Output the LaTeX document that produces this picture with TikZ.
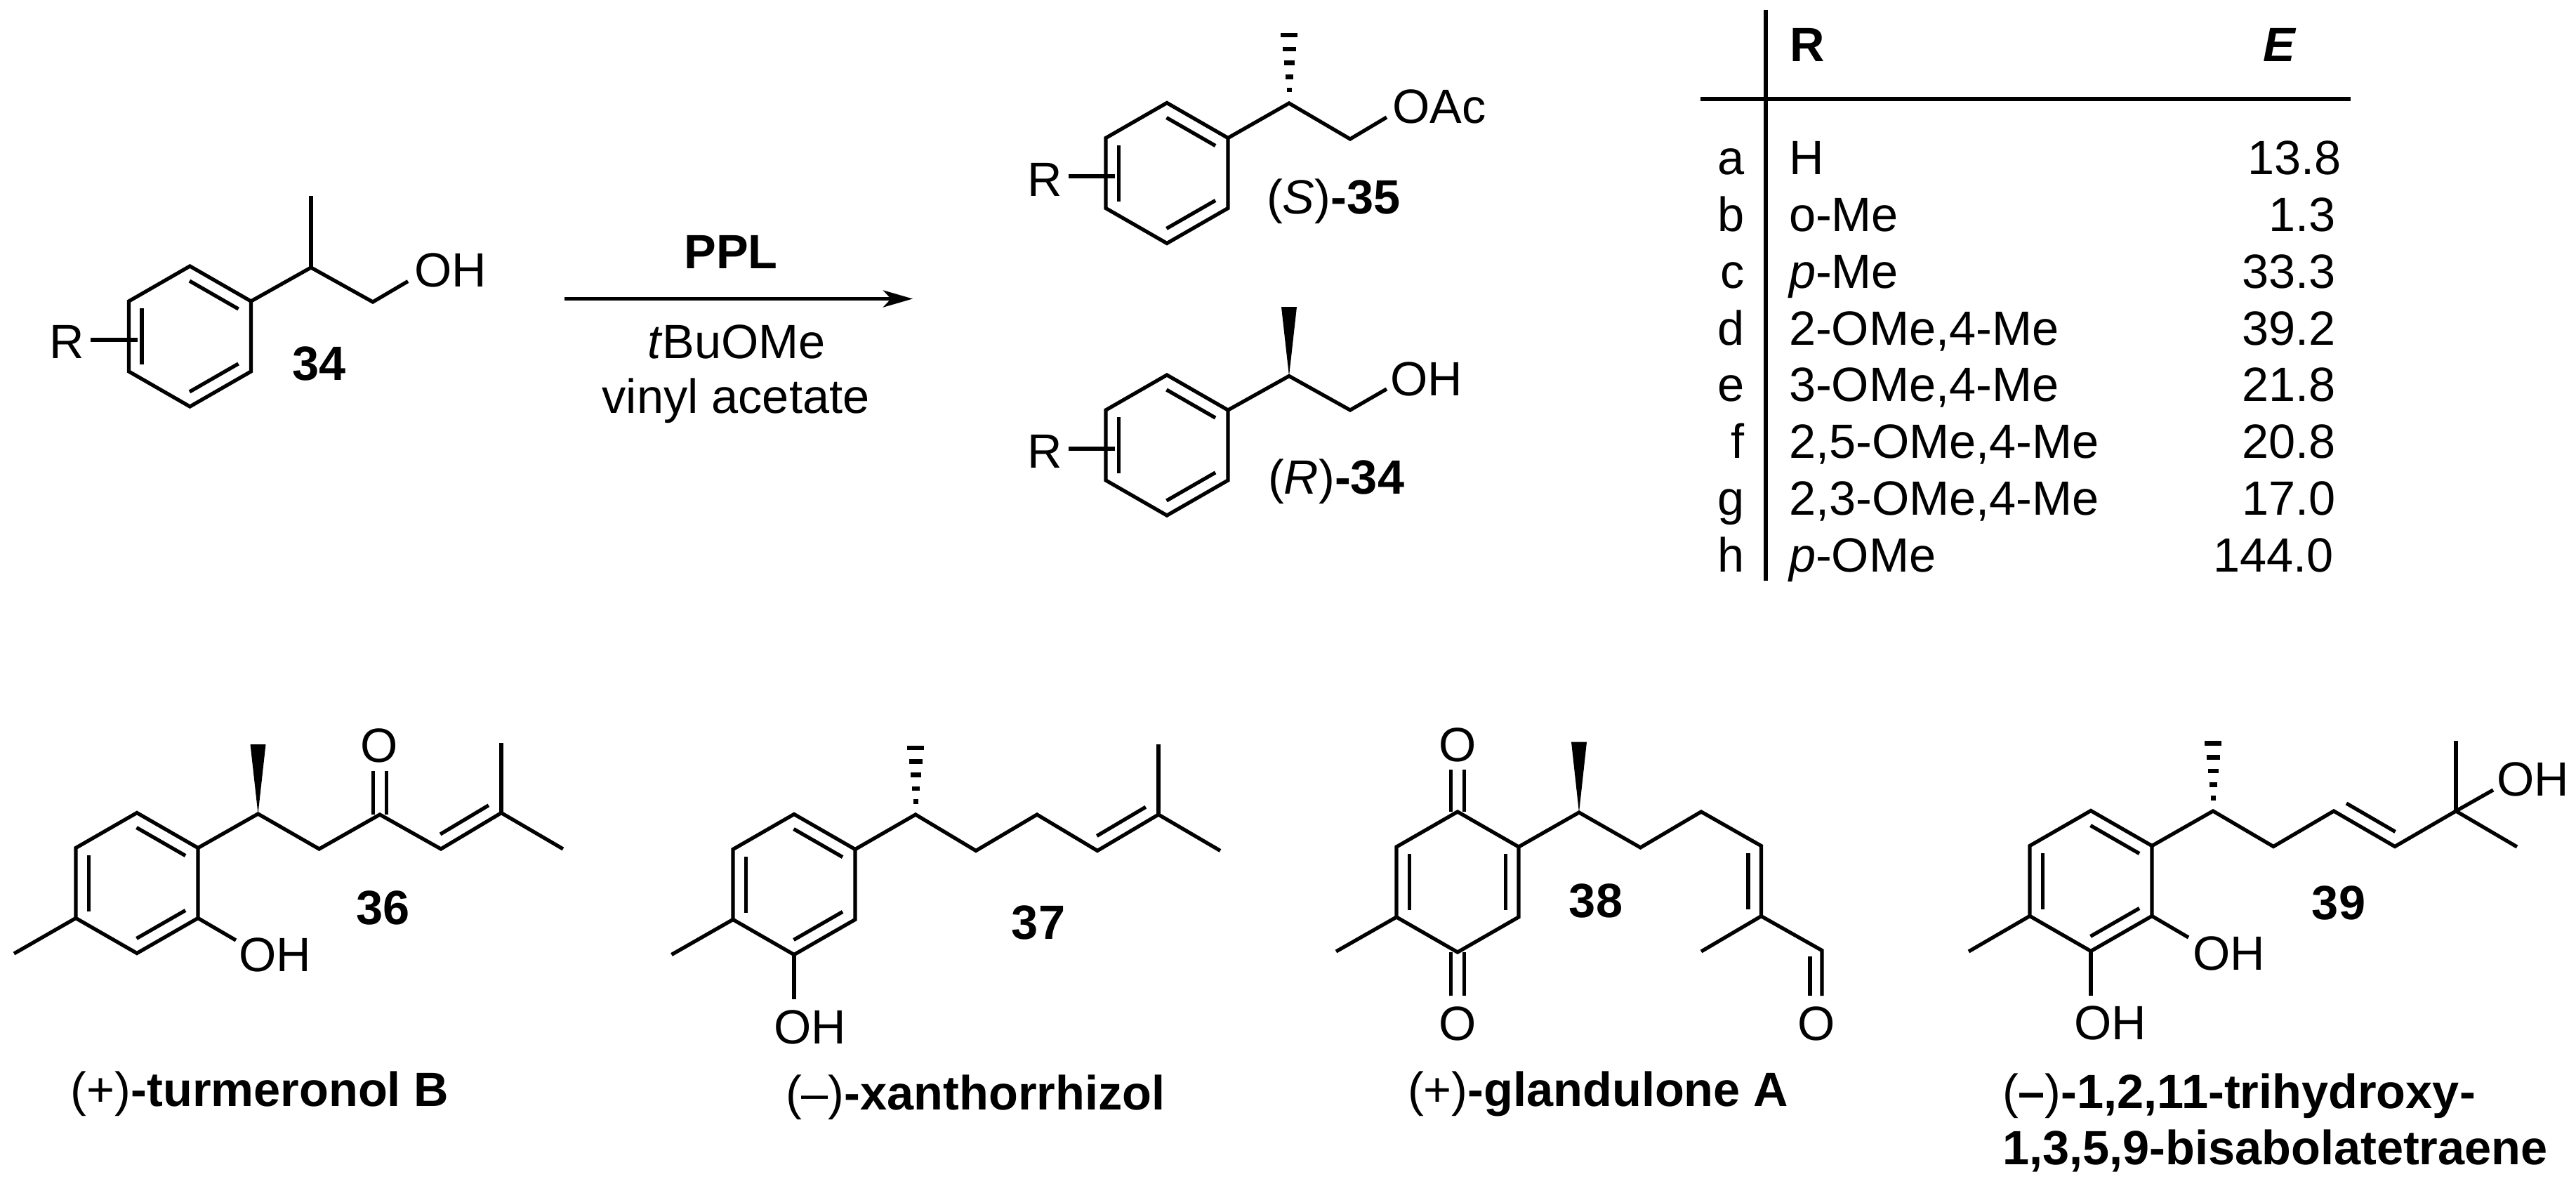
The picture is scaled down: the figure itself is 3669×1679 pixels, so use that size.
\documentclass[tikz,border=0pt]{standalone}
\usepackage{fontspec}
\setmainfont{Liberation Sans}
\usetikzlibrary{
  arrows.meta,     % reaction arrow tip
  calc             % inner lines of double bonds
}
\tikzset{
  every node/.style = {
    inner sep = 0pt,
    outer sep = 0pt,
    font = \fontsize{13.7}{16}\selectfont
  },
  lbl/.style = {anchor=base},
  lblw/.style = {anchor=base west},
  lble/.style = {anchor=base east},
  bond/.style = {draw, line width=1.05pt},
  >={Stealth[length=8.4pt,width=4.8pt,inset=2.2pt]}
}
% ring: name, centre x, centre y (the outer hexagon, clockwise from the top)
\newcommand{\ringat}[3]{
  \coordinate (#1t) at (#2,#3-100);
  \coordinate (#1ur) at (#2+87,#3-50);
  \coordinate (#1lr) at (#2+87,#3+50);
  \coordinate (#1b) at (#2,#3+100);
  \coordinate (#1ll) at (#2-87,#3+50);
  \coordinate (#1ul) at (#2-87,#3-50);
  \draw[bond] (#1t) -- (#1ur) -- (#1lr) -- (#1b) -- (#1ll) -- (#1ul) -- cycle;
}
% second line of a double bond, on the right hand of the way from #1 to #2
\newcommand{\innerline}[2]{
  \draw[bond] ($(#1)!.1!(#2)!3.7pt!-90:(#2)$) -- ($(#2)!.1!(#1)!3.7pt!90:(#1)$);
}
% C=O drawn as two lines either side of the axis
\newcommand{\carbonyl}[2]{
  \draw[bond] ([xshift=-1.85pt]#1) -- ([xshift=-1.85pt]#2);
  \draw[bond] ([xshift=1.85pt]#1) -- ([xshift=1.85pt]#2);
}
\newcommand{\hatchbond}[2]{
  \foreach \f/\w in {.19/3.5,.38/5.5,.58/7.5,.78/9.5,.98/12}{
    \draw[bond,line width=1.3pt] ($(#1)!\f!(#2)$) +(-\w,0) -- +(\w,0);
  }
}
\newcommand{\wedgebond}[2]{
  \fill (#1) -- ([xshift=-2.2pt]#2) -- ([xshift=2.2pt]#2) -- cycle;
}

\begin{document}
\begin{tikzpicture}[x=0.2pt,y=-0.2pt]
  \useasboundingbox (0,0) rectangle (3669,1679);

  %% racemic alcohol 34
  \ringat{A}{270.5}{479}
  \innerline{At}{Aur}
  \innerline{Alr}{Ab}
  \innerline{All}{Aul}
  \coordinate (AC) at (443,381);
  \coordinate (AMe) at (443,279);
  \coordinate (ACH) at (531,430);
  \coordinate (AO) at (581,400.6);
  \coordinate (ARa) at (129,484);
  \coordinate (ARb) at (196,484);
  \draw[bond] (Aur) -- (AC) -- (ACH) -- (AO);
  \draw[bond] (AC) -- (AMe);
  \draw[bond] (ARa) -- (ARb);
  \node[lbl] (AOH) at (642,408) {OH};
  \node[lbl] (AR) at (95,510) {R};
  \node[lbl] (Anum) at (455,541) {\textbf{34}};

  %% reaction arrow
  \coordinate (arrowA) at (804,425.5);
  \coordinate (arrowB) at (1300,425.5);
  \draw[bond,->] (arrowA) -- (arrowB);
  \node[lbl] (PPL) at (1041,382) {\textbf{PPL}};
  \node[lbl] (solvent) at (1049,510) {\textit{t}BuOMe};
  \node[lbl] (acyl) at (1048,588) {vinyl acetate};

  %% acetate 35
  \ringat{B}{1662}{246.5}
  \innerline{Bt}{Bur}
  \innerline{Blr}{Bb}
  \innerline{Bll}{Bul}
  \coordinate (BC) at (1836,147);
  \coordinate (BMe) at (1836,48);
  \coordinate (BCH) at (1923,198);
  \coordinate (BO) at (1975,167);
  \coordinate (BRa) at (1522,251);
  \coordinate (BRb) at (1588,251);
  \draw[bond] (Bur) -- (BC) -- (BCH) -- (BO);
  \draw[bond] (BRa) -- (BRb);
  \hatchbond{BC}{BMe}
  \node[lbl] (BOAc) at (2050,176) {OAc};
  \node[lbl] (BR) at (1488,279.5) {R};
  \node[lblw] (Bnum) at (1804,304) {(\textit{S})\textbf{-35}};

  %% alcohol (R)-34
  \ringat{C}{1662}{634}
  \innerline{Ct}{Cur}
  \innerline{Clr}{Cb}
  \innerline{Cll}{Cul}
  \coordinate (CC) at (1836,535.5);
  \coordinate (CMe) at (1836,437);
  \coordinate (CCH) at (1923,584);
  \coordinate (CO) at (1975,554);
  \coordinate (CRa) at (1522,639);
  \coordinate (CRb) at (1588,639);
  \draw[bond] (Cur) -- (CC) -- (CCH) -- (CO);
  \draw[bond] (CRa) -- (CRb);
  \wedgebond{CC}{CMe}
  \node[lbl] (COH) at (2032,563) {OH};
  \node[lbl] (CR) at (1488,666) {R};
  \node[lblw] (Cnum) at (1806,703) {(\textit{R})\textbf{-34}};

  %% table
  \coordinate (Tt) at (2515,14);
  \coordinate (Tb) at (2515,827);
  \coordinate (Tl) at (2422,141);
  \coordinate (Tr) at (3348,141);
  \draw[bond] (Tt) -- (Tb);
  \draw[bond] (Tl) -- (Tr);
  \node[lblw] (headR) at (2549,87) {\textbf{R}};
  \node[lble] (headE) at (3271,87) {\textbf{\textit{E}}};
  \foreach \yrow/\key/\sub/\val/\xval in {
    248/a/H/13.8/3335,
    329/b/o-Me/1.3/3327,
    410/c/\textit{p}-Me/33.3/3327,
    491/d/{2-OMe,4-Me}/39.2/3327,
    571/e/{3-OMe,4-Me}/21.8/3327,
    652/f/{2,5-OMe,4-Me}/20.8/3327,
    733/g/{2,3-OMe,4-Me}/17.0/3327,
    814/h/\textit{p}-OMe/144.0/3324}{
    \node[lble] (key\key) at (2485,\yrow) {\key};
    \node[lblw] (sub\key) at (2548,\yrow) {\sub};
    \node[lble] (val\key) at (\xval,\yrow) {\val};
  }

  %% turmeronol B 36
  \ringat{D}{195}{1257.5}
  \innerline{Dt}{Dur}
  \innerline{Dlr}{Db}
  \innerline{Dll}{Dul}
  \coordinate (DMe) at (20,1358);
  \coordinate (DO) at (336,1339);
  \coordinate (DC) at (367.5,1159);
  \coordinate (DW) at (367.5,1060);
  \coordinate (DCH) at (454.6,1209);
  \coordinate (DCO) at (541,1160);
  \coordinate (DOt) at (541,1098);
  \coordinate (DCE) at (628,1209);
  \coordinate (DCM) at (714,1157.6);
  \coordinate (DMa) at (714,1057.5);
  \coordinate (DMb) at (802,1209);
  \draw[bond] (Dll) -- (DMe);
  \draw[bond] (Dlr) -- (DO);
  \draw[bond] (Dur) -- (DC) -- (DCH) -- (DCO) -- (DCE) -- (DCM) -- (DMb);
  \draw[bond] (DCM) -- (DMa);
  \innerline{DCM}{DCE}
  \carbonyl{DCO}{DOt}
  \wedgebond{DC}{DW}
  \node[lbl] (DOH) at (392,1383) {OH};
  \node[lbl] (DOx) at (540,1085) {O};
  \node[lbl] (Dnum) at (546,1316) {\textbf{36}};
  \node[lblw] (Dname) at (101,1575.5) {(+)\textbf{-turmeronol B}};

  %% xanthorrhizol 37
  \ringat{E}{1131}{1259.5}
  \innerline{Et}{Eur}
  \innerline{Elr}{Eb}
  \innerline{Ell}{Eul}
  \coordinate (EMe) at (956.5,1359.5);
  \coordinate (EO) at (1131,1423);
  \coordinate (EC) at (1304,1160);
  \coordinate (EH) at (1304,1063);
  \coordinate (ECa) at (1390,1211.5);
  \coordinate (ECb) at (1477,1160);
  \coordinate (ECE) at (1563,1211.5);
  \coordinate (ECM) at (1650,1160);
  \coordinate (EMa) at (1650,1060);
  \coordinate (EMb) at (1738,1211.5);
  \draw[bond] (Ell) -- (EMe);
  \draw[bond] (Eb) -- (EO);
  \draw[bond] (Eur) -- (EC) -- (ECa) -- (ECb) -- (ECE) -- (ECM) -- (EMb);
  \draw[bond] (ECM) -- (EMa);
  \innerline{ECM}{ECE}
  \hatchbond{EC}{EH}
  \node[lbl] (EOH) at (1154,1486) {OH};
  \node[lbl] (Enum) at (1479,1337) {\textbf{37}};
  \node[lblw] (Ename) at (1119,1580) {(–)\textbf{-xanthorrhizol}};

  %% glandulone A 38
  \ringat{F}{2076}{1256}
  \innerline{Fll}{Ful}
  \innerline{Fur}{Flr}
  \coordinate (FMe) at (1903,1355);
  \coordinate (FOa) at (2076,1096);
  \coordinate (FOb) at (2076,1418);
  \coordinate (FC) at (2249,1157);
  \coordinate (FW) at (2249,1056.6);
  \coordinate (FCa) at (2336.5,1207);
  \coordinate (FCb) at (2423,1156);
  \coordinate (FCE) at (2508.5,1204.6);
  \coordinate (FCM) at (2508.5,1304.7);
  \coordinate (FMb) at (2423,1355);
  \coordinate (FCHO) at (2595,1353.5);
  \coordinate (FOc) at (2595,1418);
  \coordinate (FOd) at (2578,1418);
  \coordinate (FOe) at (2578,1362);
  \draw[bond] (Fll) -- (FMe);
  \draw[bond] (Fur) -- (FC) -- (FCa) -- (FCb) -- (FCE) -- (FCM) -- (FCHO) -- (FOc);
  \draw[bond] (FCM) -- (FMb);
  \draw[bond] (FOe) -- (FOd);
  \innerline{FCE}{FCM}
  \carbonyl{Ft}{FOa}
  \carbonyl{Fb}{FOb}
  \wedgebond{FC}{FW}
  \node[lbl] (FOx) at (2076,1084) {O};
  \node[lbl] (FOy) at (2076,1481) {O};
  \node[lbl] (FOz) at (2587.5,1481) {O};
  \node[lbl] (Fnum) at (2273,1306) {\textbf{38}};
  \node[lblw] (Fname) at (2005,1575.5) {(+)\textbf{-glandulone A}};

  %% bisabolatetraene 39
  \ringat{G}{2978}{1254.5}
  \innerline{Gt}{Gur}
  \innerline{Glr}{Gb}
  \innerline{Gll}{Gul}
  \coordinate (GMe) at (2804,1355);
  \coordinate (GOa) at (3117,1335);
  \coordinate (GOb) at (2978,1418);
  \coordinate (GC) at (3152,1155);
  \coordinate (GH) at (3152,1056.6);
  \coordinate (GCa) at (3238,1205.5);
  \coordinate (GCb) at (3324,1155);
  \coordinate (GCc) at (3411,1205.5);
  \coordinate (GCd) at (3498,1155);
  \coordinate (GMa) at (3498,1055);
  \coordinate (GMb) at (3585,1206);
  \coordinate (GOc) at (3551,1125);
  \draw[bond] (Gll) -- (GMe);
  \draw[bond] (Glr) -- (GOa);
  \draw[bond] (Gb) -- (GOb);
  \draw[bond] (Gur) -- (GC) -- (GCa) -- (GCb) -- (GCc) -- (GCd) -- (GMb);
  \draw[bond] (GCd) -- (GMa);
  \draw[bond] (GCd) -- (GOc);
  \innerline{GCc}{GCb}
  \hatchbond{GC}{GH}
  \node[lbl] (GOHa) at (3175,1381) {OH};
  \node[lbl] (GOHb) at (3006,1480) {OH};
  \node[lbl] (GOHc) at (3608,1133) {OH};
  \node[lbl] (Gnum) at (3331,1309) {\textbf{39}};
  \node[lblw] (Gnamea) at (2852,1578) {(\textbf{–})\textbf{-1,2,11-trihydroxy-}};
  \node[lblw] (Gnameb) at (2852,1658) {\textbf{1,3,5,9-bisabolatetraene}};
\end{tikzpicture}
\end{document}
